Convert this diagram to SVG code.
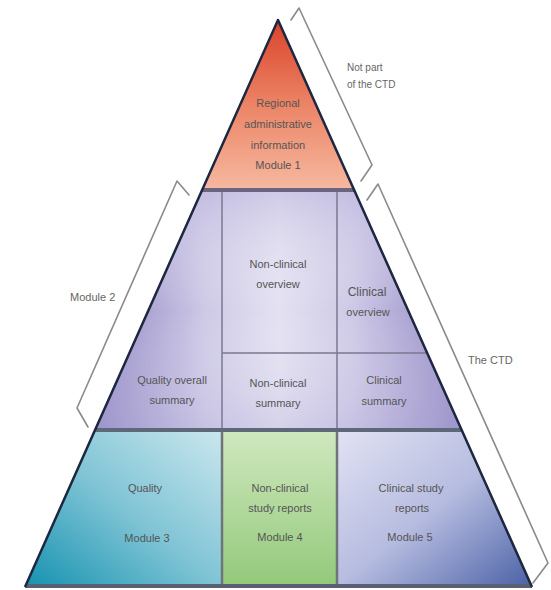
<svg xmlns="http://www.w3.org/2000/svg" width="551" height="590" viewBox="0 0 551 590">
<defs>
<linearGradient id="gTop" x1="0" y1="0" x2="0" y2="1">
<stop offset="0" stop-color="#d9432a"/>
<stop offset="0.5" stop-color="#ec8466"/>
<stop offset="1" stop-color="#f6b9a0"/>
</linearGradient>
<linearGradient id="gMid" gradientUnits="userSpaceOnUse" x1="95" y1="0" x2="462" y2="0">
<stop offset="0" stop-color="#8d84c2"/>
<stop offset="0.3" stop-color="#cdc9e6"/>
<stop offset="0.5" stop-color="#e3e1f1"/>
<stop offset="0.7" stop-color="#cdc9e6"/>
<stop offset="1" stop-color="#8d84c2"/>
</linearGradient>
<linearGradient id="gMidV" x1="0" y1="0" x2="0" y2="1">
<stop offset="0" stop-color="#b9b2dc" stop-opacity="0.5"/>
<stop offset="0.5" stop-color="#ffffff" stop-opacity="0"/>
<stop offset="1" stop-color="#b9b2dc" stop-opacity="0.35"/>
</linearGradient>
<linearGradient id="gQ" x1="0" y1="1" x2="1" y2="0">
<stop offset="0" stop-color="#1592b0"/>
<stop offset="0.5" stop-color="#7fc4d5"/>
<stop offset="1" stop-color="#cbe7ee"/>
</linearGradient>
<linearGradient id="gN" x1="0" y1="0" x2="0" y2="1">
<stop offset="0" stop-color="#d0e8bf"/>
<stop offset="1" stop-color="#92c97a"/>
</linearGradient>
<linearGradient id="gC" x1="0" y1="0" x2="1" y2="1">
<stop offset="0" stop-color="#e2e2f3"/>
<stop offset="0.5" stop-color="#b6bce0"/>
<stop offset="1" stop-color="#4a61a6"/>
</linearGradient>
</defs>
<style>
text{font-family:"Liberation Sans",Arial,sans-serif;font-size:11px;fill:#555;text-anchor:middle}
.lbl{fill:#666;text-anchor:start}
.div{stroke:#7a7890;stroke-width:1.5;fill:none}
.band{stroke:#6a6480;stroke-width:4;fill:none}
.edge{stroke:#1e2740;stroke-width:2.5;fill:none;stroke-linejoin:round}
.br{stroke:#8a8a8a;stroke-width:1.6;fill:none;stroke-linejoin:round;stroke-linecap:round}
</style>
<rect width="551" height="590" fill="#ffffff"/>
<g id="module1">
<polygon points="278,20 354.1,190 202.1,190" fill="url(#gTop)"/>
<text x="278" y="107">Regional</text>
<text x="278" y="128">administrative</text>
<text x="278" y="149">information</text>
<text x="278" y="169">Module 1</text>
</g>
<g id="module2">
<polygon points="202.1,190 354.1,190 461.7,430 95,430" fill="url(#gMid)"/>
<polygon points="202.1,190 354.1,190 461.7,430 95,430" fill="url(#gMidV)"/>
</g>
<g id="quality-overall-summary">
<text x="172" y="384">Quality overall</text>
<text x="172" y="404">summary</text>
</g>
<g id="nonclinical-overview">
<text x="278" y="268">Non-clinical</text>
<text x="278" y="288">overview</text>
</g>
<g id="clinical-overview">
<text x="367" y="296" style="font-size:12px">Clinical</text>
<text x="368" y="316">overview</text>
</g>
<g id="nonclinical-summary">
<text x="278" y="387">Non-clinical</text>
<text x="278" y="407">summary</text>
</g>
<g id="clinical-summary">
<text x="384" y="384">Clinical</text>
<text x="384" y="405">summary</text>
</g>
<g id="module3">
<polygon points="95,430 222,430 222,587 25,587" fill="url(#gQ)"/>
<text x="145" y="492">Quality</text>
<text x="147" y="542">Module 3</text>
</g>
<g id="module4">
<rect x="222" y="430" width="115" height="157" fill="url(#gN)"/>
<text x="280" y="492">Non-clinical</text>
<text x="280" y="512">study reports</text>
<text x="280" y="541">Module 4</text>
</g>
<g id="module5">
<polygon points="337,430 461.7,430 532,587 337,587" fill="url(#gC)"/>
<text x="411" y="492">Clinical study</text>
<text x="412" y="512">reports</text>
<text x="410" y="541">Module 5</text>
</g>
<g id="lines">
<line class="div" x1="222" y1="190" x2="222" y2="430"/>
<line class="div" x1="337" y1="190" x2="337" y2="430"/>
<line class="div" x1="222" y1="353" x2="427.2" y2="353"/>
<line x1="222" y1="430" x2="222" y2="587" stroke="#6e7478" stroke-width="2.5"/>
<line x1="337" y1="430" x2="337" y2="587" stroke="#6e7478" stroke-width="2.5"/>
<line class="band" x1="202.1" y1="190" x2="354.1" y2="190"/>
<line class="band" x1="95" y1="430" x2="461.7" y2="430" style="stroke:#5d6878"/>
<line x1="25" y1="586" x2="532" y2="586" stroke="#5a6070" stroke-width="4"/>
<polyline class="edge" points="25,587 278,20 532,587"/>
</g>
<g id="connectors">
<polyline class="br" points="291,20 299,8 372,165 361,181"/>
<polyline class="br" points="189,195 177,181 77,408 88,427"/>
<polyline class="br" points="367,200 378,184 548,563 533,583"/>
</g>
<g id="labels">
<text class="lbl" x="347" y="71" style="font-size:10px">Not part</text>
<text class="lbl" x="347" y="88" style="font-size:10px">of the CTD</text>
<text class="lbl" x="70" y="301">Module 2</text>
<text class="lbl" x="468" y="364">The CTD</text>
</g>
</svg>
